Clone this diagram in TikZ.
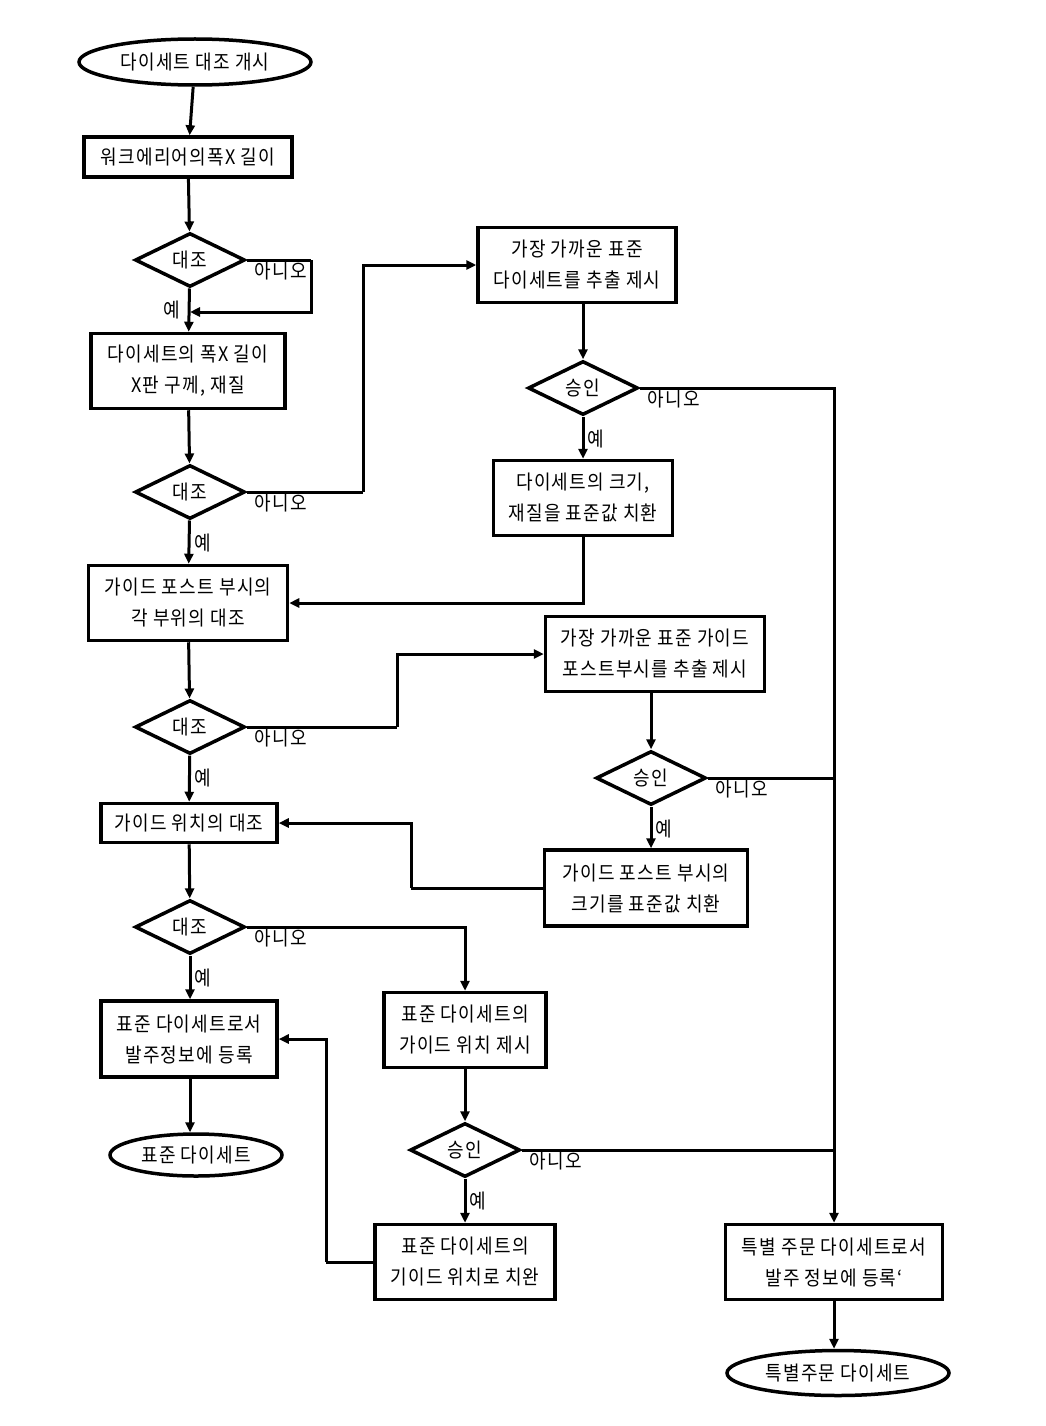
\documentclass[tikz,border=0pt]{standalone}
\usepackage{fontspec}
\setmainfont[FakeStretch=0.9,LetterSpace=6]{Noto Sans CJK KR}
\usetikzlibrary{shapes.geometric,arrows.meta}
\tikzset{
  box/.style={draw, line width=3.5pt, align=center, inner sep=0pt, fill=white},
  term/.style={draw, ellipse, line width=3.5pt, inner sep=0pt, fill=white},
  dec/.style={draw, diamond, line width=3.5pt, inner sep=0pt, minimum width=110pt, minimum height=54pt, aspect=2.04},
  conn/.style={line width=3pt, -{Triangle[length=10pt,width=9pt]}},
  plain/.style={line width=3pt},
  lbl/.style={inner sep=0pt, anchor=west},
}
\begin{document}
\begin{tikzpicture}[x=1pt,y=-1pt,font=\fontsize{20}{31}\selectfont]
\useasboundingbox[fill=white] (0,0) rectangle (1045,1426);

% left column
\node[term, minimum width=232pt, minimum height=46pt] (start) at (195,62) {다이세트 대조 개시};
\node[box, minimum width=208pt, minimum height=40pt] (b1) at (188,157) {워크에리어의폭X 길이};
\node[dec] (d1) at (190,260) {대조};
\node[box, minimum width=194pt, minimum height=75pt] (b2) at (188,371) {다이세트의 폭X 길이\\X판 구께, 재질};
\node[dec] (d2) at (190,492) {대조};
\node[box, minimum width=199pt, minimum height=75pt] (b5) at (188,603) {가이드 포스트 부시의\\각 부위의 대조};
\node[dec] (d4) at (190,727) {대조};
\node[box, minimum width=176pt, minimum height=39pt] (b8) at (189,823) {가이드 위치의 대조};
\node[dec] (d6) at (190,927) {대조};
\node[box, minimum width=176pt, minimum height=76pt] (b10) at (189,1039) {표준 다이세트로서\\발주정보에 등록};
\node[term, minimum width=172pt, minimum height=42pt] (end1) at (196,1155) {표준 다이세트};

% middle/right column
\node[box, minimum width=198pt, minimum height=75pt] (b3) at (577,265) {가장 가까운 표준\\다이세트를 추출 제시};
\node[dec] (d3) at (583,388) {승인};
\node[box, minimum width=179pt, minimum height=75pt] (b4) at (583,498) {다이세트의 크기,\\재질을 표준값 치환};
\node[box, minimum width=219pt, minimum height=75pt] (b6) at (655,654) {가장 가까운 표준 가이드\\포스트부시를 추출 제시};
\node[dec] (d5) at (651,778) {승인};
\node[box, minimum width=203pt, minimum height=76pt] (b7) at (646,888) {가이드 포스트 부시의\\크기를 표준값 치환};
\node[box, minimum width=162pt, minimum height=75pt] (b9) at (465,1030) {표준 다이세트의\\가이드 위치 제시};
\node[dec] (d7) at (465,1150) {승인};
\node[box, minimum width=180pt, minimum height=75pt] (b11) at (465,1262) {표준 다이세트의\\기이드 위치로 치완};
\node[box, minimum width=217pt, minimum height=75pt] (b12) at (834,1262) {특별 주문 다이세트로서\\발주 정보에 등록`};
\node[term, minimum width=222pt, minimum height=45pt] (end2) at (838,1373) {특별주문 다이세트};

% helper coordinates
\coordinate (j1) at (190,312);
\coordinate (r1) at (311,260);
\coordinate (r2) at (363,492);
\coordinate (r4) at (397,727);
\coordinate (r7) at (411,888);
\coordinate (r11) at (326,1262);

% main flow
\draw[conn] (start) -- (b1);
\draw[conn] (b1) -- (d1);
\draw[conn] (d1) -- (b2);
\draw[plain] (d1.east) -- (r1);
\draw[conn] (r1) |- (j1);
\draw[conn] (b2) -- (d2);
\draw[conn] (d2) -- (b5);
\draw[plain] (d2.east) -- (r2);
\draw[conn] (r2) |- (b3.west);
\draw[conn] (b3.south -| d3.north) -- (d3.north);
\draw[conn] (d3) -- (b4);
\draw[conn] (b4.south) |- (b5.east);
\draw[conn] (b5) -- (d4);
\draw[conn] (d4) -- (b8);
\draw[plain] (d4.east) -- (r4);
\draw[conn] (r4) |- (b6.west);
\draw[conn] (b6.south -| d5.north) -- (d5.north);
\draw[conn] (d5) -- (b7.north -| d5.south);
\draw[plain] (b7.west) -- (r7);
\draw[conn] (r7) |- (b8.east);
\draw[conn] (b8) -- (d6);
\draw[conn] (d6) -- (b10.north -| d6.south);
\draw[conn] (d6.east) -| (b9.north);
\draw[conn] (b9) -- (d7);
\draw[conn] (d7) -- (b11);
\draw[plain] (b11.west) -- (r11);
\draw[conn] (r11) |- (b10.east);
\draw[conn] (b10.south -| d6.south) -- (end1.north -| d6.south);
\draw[conn] (d3.east) -| (b12.north);
\draw[plain] (d5.east) -- (d5.east -| b12.north);
\draw[plain] (d7.east) -- (d7.east -| b12.north);
\draw[conn] (b12) -- (end2.north -| b12.south);

% labels
\node[inner sep=0pt] (y1) at (172,310) {예};
\node[lbl] (n1) at ([shift={(8,11)}]d1.east) {아니오};
\node[lbl] (y2) at ([shift={(4,22)}]d2.south) {예};
\node[lbl] (n2) at ([shift={(8,11)}]d2.east) {아니오};
\node[lbl] (y3) at ([shift={(4,22)}]d3.south) {예};
\node[lbl] (n3) at ([shift={(8,11)}]d3.east) {아니오};
\node[lbl] (y4) at ([shift={(4,22)}]d4.south) {예};
\node[lbl] (n4) at ([shift={(8,11)}]d4.east) {아니오};
\node[lbl] (y5) at ([shift={(4,22)}]d5.south) {예};
\node[lbl] (n5) at ([shift={(8,11)}]d5.east) {아니오};
\node[lbl] (y6) at ([shift={(4,22)}]d6.south) {예};
\node[lbl] (n6) at ([shift={(8,11)}]d6.east) {아니오};
\node[lbl] (y7) at ([shift={(4,22)}]d7.south) {예};
\node[lbl] (n7) at ([shift={(8,11)}]d7.east) {아니오};
\end{tikzpicture}
\end{document}
